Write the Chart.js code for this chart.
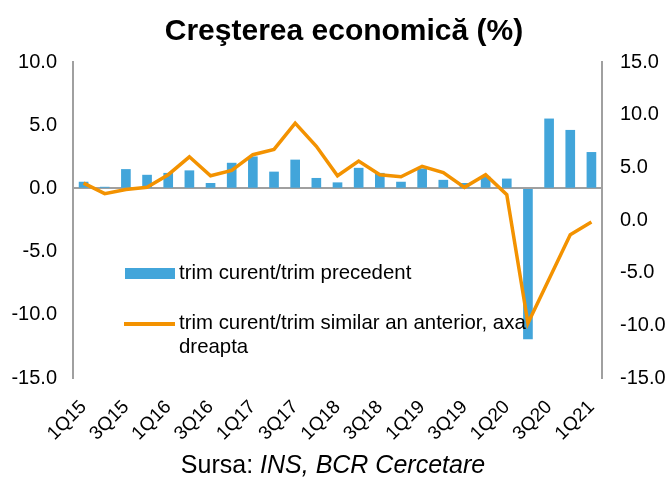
<!DOCTYPE html>
<html lang="ro">
<head>
    <meta charset="UTF-8">
    <title>Creşterea economică (%)</title>
    <script src="https://cdn.jsdelivr.net/npm/chart.js"></script>
    <style>
        body {
            margin: 0;
            background: #fff;
            font-family: "Liberation Sans", Arial, sans-serif;
            color: #000;
        }
        .wrap {
            position: relative;
            width: 668px;
            height: 477px;
        }
        #chart {
            position: absolute;
            left: 0;
            top: 0;
        }
        .title {
            position: absolute;
            left: 144px;
            width: 400px;
            top: 15px;
            text-align: center;
            font-size: 30px;
            line-height: 30px;
            font-weight: bold;
        }
        .source {
            position: absolute;
            left: 133px;
            width: 400px;
            top: 452px;
            text-align: center;
            font-size: 25px;
            line-height: 25px;
        }
        .legend-swatch {
            position: absolute;
        }
        .legend-text {
            position: absolute;
            font-size: 20.4px;
            line-height: 24px;
            width: 362px;
        }
    </style>
</head>
<body>
    <div class="wrap">
        <canvas id="chart" width="668" height="477"></canvas>
        <div class="title">Creşterea economică (%)</div>
        <div id="legend"></div>
        <div class="source">Sursa: <i>INS, BCR Cercetare</i></div>
    </div>

    <script>
        // quarters 1Q15 .. 1Q21
        const quarters = [
            '1Q15', '2Q15', '3Q15', '4Q15',
            '1Q16', '2Q16', '3Q16', '4Q16',
            '1Q17', '2Q17', '3Q17', '4Q17',
            '1Q18', '2Q18', '3Q18', '4Q18',
            '1Q19', '2Q19', '3Q19', '4Q19',
            '1Q20', '2Q20', '3Q20', '4Q20',
            '1Q21'
        ];

        // trim curent / trim precedent (left axis)
        const qoq = [
            0.5, 0.1, 1.5, 1.05,
            1.2, 1.4, 0.4, 2.0,
            2.5, 1.3, 2.25, 0.8,
            0.45, 1.6, 1.2, 0.5,
            1.55, 0.65, 0.4, 0.9,
            0.75, -11.9, 5.5, 4.6,
            2.85
        ];

        // trim curent / trim similar an anterior (right axis)
        const yoy = [
            3.5, 2.5, 2.9, 3.1,
            4.3, 6.0, 4.2, 4.7,
            6.2, 6.7, 9.2, 7.0,
            4.2, 5.6, 4.3, 4.1,
            5.1, 4.5, 3.1, 4.3,
            2.4, -9.8, -5.6, -1.4,
            -0.2
        ];

        const barLabel = 'trim curent/trim precedent';
        const lineLabel = 'trim curent/trim similar an anterior, axa dreapta';

        const barColor = '#42A5DA';
        const lineColor = '#F39200';
        const axisColor = '#A0A0A0';

        Chart.defaults.font.family = '"Liberation Sans", Arial, sans-serif';
        Chart.defaults.color = '#000';

        const ctx = document.getElementById('chart').getContext('2d');
        const chart = new Chart(ctx, {
            type: 'bar',
            data: {
                labels: quarters,
                datasets: [
                    {
                        type: 'line',
                        label: lineLabel,
                        data: yoy,
                        yAxisID: 'y1',
                        borderColor: lineColor,
                        backgroundColor: lineColor,
                        borderWidth: 3.5,
                        pointRadius: 0,
                        tension: 0,
                        order: 0
                    },
                    {
                        type: 'bar',
                        label: barLabel,
                        data: qoq,
                        yAxisID: 'y',
                        backgroundColor: barColor,
                        barThickness: 9,
                        order: 1
                    }
                ]
            },
            options: {
                responsive: false,
                animation: false,
                layout: {
                    padding: { top: 62, bottom: 19, left: 0, right: 0 }
                },
                plugins: {
                    legend: { display: false },
                    title: { display: false },
                    tooltip: { enabled: false }
                },
                scales: {
                    x: {
                        grid: { display: false },
                        border: { display: false },
                        ticks: {
                            autoSkip: false,
                            minRotation: 45,
                            maxRotation: 45,
                            labelOffset: 0,
                            padding: 10,
                            font: { size: 19 },
                            callback: (value, index) => index % 2 === 0 ? quarters[index] : ''
                        },
                        afterFit: (scale) => { scale.height = 80; }
                    },
                    y: {
                        position: 'left',
                        min: -15,
                        max: 10,
                        ticks: {
                            stepSize: 5,
                            padding: 16,
                            font: { size: 20 },
                            callback: (v) => v.toFixed(1)
                        },
                        grid: {
                            drawTicks: false,
                            lineWidth: 2,
                            color: (c) => c.tick && c.tick.value === 0 ? axisColor : 'rgba(0,0,0,0)'
                        },
                        border: { display: true, color: axisColor, width: 2 },
                        afterFit: (scale) => { scale.width = 73; }
                    },
                    y1: {
                        position: 'right',
                        min: -15,
                        max: 15,
                        ticks: {
                            stepSize: 5,
                            padding: 18,
                            font: { size: 20 },
                            callback: (v) => v.toFixed(1)
                        },
                        grid: { display: false, drawTicks: false },
                        border: { display: true, color: axisColor, width: 2 },
                        afterFit: (scale) => { scale.width = 66; }
                    }
                }
            }
        });

        // legend inside the plot, built from the datasets
        const legend = document.getElementById('legend');
        const legendRows = [
            { ds: chart.data.datasets[1], swatch: { left: 125, top: 268, width: 50, height: 11 }, textTop: 260 },
            { ds: chart.data.datasets[0], swatch: { left: 124, top: 322, width: 51, height: 4 }, textTop: 310 }
        ];
        legendRows.forEach(row => {
            const sw = document.createElement('div');
            sw.className = 'legend-swatch';
            sw.style.left = row.swatch.left + 'px';
            sw.style.top = row.swatch.top + 'px';
            sw.style.width = row.swatch.width + 'px';
            sw.style.height = row.swatch.height + 'px';
            sw.style.background = row.ds.type === 'line' ? row.ds.borderColor : row.ds.backgroundColor;
            legend.appendChild(sw);

            const tx = document.createElement('div');
            tx.className = 'legend-text';
            tx.style.left = '179px';
            tx.style.top = row.textTop + 'px';
            tx.textContent = row.ds.label;
            legend.appendChild(tx);
        });
    </script>
</body>
</html>
